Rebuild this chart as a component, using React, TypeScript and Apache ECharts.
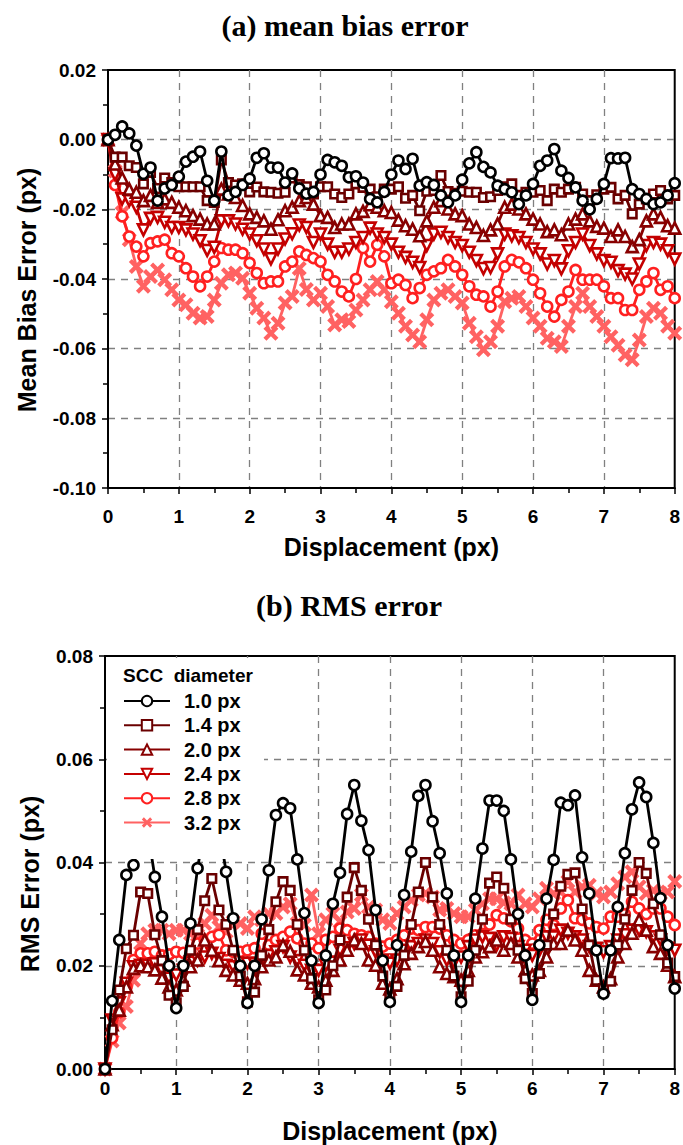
import React, { useEffect, useRef } from "react";
import * as echarts from "echarts";

// Displacement (px)
const disp = [0,0.1,0.2,0.3,0.4,0.5,0.6,0.7,0.8,0.9,1,1.1,1.2,1.3,1.4,1.5,1.6,1.7,1.8,1.9,2,2.1,2.2,2.3,2.4,2.5,2.6,2.7,2.8,2.9,3,3.1,3.2,3.3,3.4,3.5,3.6,3.7,3.8,3.9,4,4.1,4.2,4.3,4.4,4.5,4.6,4.7,4.8,4.9,5,5.1,5.2,5.3,5.4,5.5,5.6,5.7,5.8,5.9,6,6.1,6.2,6.3,6.4,6.5,6.6,6.7,6.8,6.9,7,7.1,7.2,7.3,7.4,7.5,7.6,7.7,7.8,7.9,8];

const seriesNames = ["1.0 px", "1.4 px", "2.0 px", "2.4 px", "2.8 px", "3.2 px"];

// (a) mean bias error
const mbe10 = [0,0.0014,0.0038,0.0018,-0.0017,-0.0098,-0.008,-0.0175,-0.014,-0.013,-0.0106,-0.0063,-0.0049,-0.0034,-0.0118,-0.0175,-0.0034,-0.016,-0.015,-0.013,-0.0112,-0.0052,-0.0039,-0.008,-0.008,-0.0123,-0.0097,-0.014,-0.0155,-0.015,-0.01,-0.0058,-0.0065,-0.0075,-0.0108,-0.0105,-0.0123,-0.017,-0.018,-0.015,-0.01,-0.006,-0.0084,-0.0055,-0.0132,-0.0122,-0.013,-0.016,-0.018,-0.016,-0.0115,-0.0068,-0.0036,-0.0078,-0.0094,-0.0132,-0.0142,-0.0151,-0.0185,-0.016,-0.0127,-0.0075,-0.006,-0.0027,-0.0089,-0.011,-0.0137,-0.0175,-0.02,-0.017,-0.0127,-0.0053,-0.0054,-0.0052,-0.0142,-0.0156,-0.017,-0.0185,-0.018,-0.016,-0.0125];
const mbe14 = [0,-0.005,-0.005,-0.0075,-0.008,-0.0127,-0.0094,-0.014,-0.011,-0.0123,-0.0135,-0.0135,-0.0135,-0.0135,-0.0175,-0.018,-0.0058,-0.0123,-0.013,-0.0127,-0.015,-0.0136,-0.015,-0.0151,-0.0154,-0.0151,-0.011,-0.0129,-0.0135,-0.0156,-0.0135,-0.0135,-0.0156,-0.0166,-0.0156,-0.0127,-0.0137,-0.0142,-0.0164,-0.0142,-0.0142,-0.0135,-0.0168,-0.016,-0.0204,-0.0148,-0.0146,-0.0103,-0.0149,-0.0154,-0.0148,-0.0151,-0.0151,-0.0166,-0.0164,-0.0146,-0.0135,-0.0127,-0.016,-0.0151,-0.0151,-0.0146,-0.0175,-0.0142,-0.0151,-0.0142,-0.0137,-0.0156,-0.0175,-0.0158,-0.0142,-0.0137,-0.017,-0.016,-0.0213,-0.0185,-0.017,-0.0156,-0.0146,-0.017,-0.016];
const mbe20 = [0,-0.007,-0.011,-0.0142,-0.0151,-0.0175,-0.016,-0.018,-0.017,-0.018,-0.0194,-0.0204,-0.0218,-0.0228,-0.0242,-0.0242,-0.0142,-0.0156,-0.0166,-0.0189,-0.0213,-0.0223,-0.0233,-0.0257,-0.023,-0.0204,-0.0194,-0.0175,-0.0166,-0.0185,-0.0218,-0.0223,-0.0252,-0.0242,-0.0242,-0.0213,-0.0206,-0.0187,-0.0194,-0.0204,-0.0209,-0.0231,-0.0247,-0.0257,-0.0276,-0.0233,-0.0194,-0.0175,-0.0199,-0.0213,-0.0218,-0.0242,-0.0252,-0.0275,-0.0259,-0.0242,-0.0194,-0.0185,-0.0199,-0.0213,-0.0228,-0.0242,-0.0264,-0.0259,-0.0273,-0.0242,-0.0228,-0.0213,-0.0233,-0.0249,-0.0254,-0.0278,-0.0259,-0.0278,-0.0307,-0.0287,-0.0233,-0.0213,-0.0223,-0.0247,-0.0254];
const mbe24 = [0,-0.01,-0.017,-0.0175,-0.0194,-0.0259,-0.0226,-0.0223,-0.0237,-0.0252,-0.0252,-0.0259,-0.0271,-0.029,-0.0318,-0.0309,-0.0233,-0.0233,-0.0242,-0.0257,-0.0271,-0.029,-0.0314,-0.0342,-0.0314,-0.0285,-0.027,-0.0245,-0.0252,-0.0295,-0.0271,-0.03,-0.0323,-0.0323,-0.0314,-0.0295,-0.0281,-0.0254,-0.0271,-0.0281,-0.03,-0.0323,-0.0338,-0.0352,-0.0367,-0.0304,-0.0271,-0.0266,-0.0281,-0.0295,-0.0304,-0.0323,-0.0347,-0.037,-0.0367,-0.0328,-0.0271,-0.0276,-0.0281,-0.0295,-0.0314,-0.0328,-0.0357,-0.0347,-0.0371,-0.0319,-0.0295,-0.0271,-0.0304,-0.0328,-0.0347,-0.0352,-0.0376,-0.0386,-0.04,-0.0357,-0.0304,-0.0295,-0.03,-0.0319,-0.0343];
const mbe28 = [0,-0.013,-0.022,-0.0278,-0.0307,-0.0335,-0.0297,-0.0292,-0.0287,-0.0326,-0.0335,-0.0369,-0.0393,-0.0421,-0.0393,-0.035,-0.0311,-0.0316,-0.0316,-0.0326,-0.0354,-0.0383,-0.0412,-0.0407,-0.0407,-0.0364,-0.035,-0.0321,-0.0331,-0.034,-0.035,-0.0388,-0.0407,-0.0436,-0.045,-0.04,-0.0311,-0.035,-0.0302,-0.0335,-0.0412,-0.0402,-0.0417,-0.0455,-0.0426,-0.0388,-0.0378,-0.0369,-0.0345,-0.0364,-0.0388,-0.0421,-0.0445,-0.045,-0.0479,-0.0436,-0.0364,-0.0345,-0.0352,-0.0369,-0.0402,-0.0441,-0.0479,-0.0508,-0.046,-0.0436,-0.0374,-0.0402,-0.0402,-0.0402,-0.0421,-0.0455,-0.0455,-0.0489,-0.0489,-0.0431,-0.0407,-0.0383,-0.0431,-0.0421,-0.0455];
const mbe32 = [0,-0.009,-0.021,-0.0287,-0.0364,-0.0421,-0.0393,-0.0374,-0.0402,-0.0431,-0.046,-0.0474,-0.0498,-0.0512,-0.0508,-0.046,-0.0412,-0.0388,-0.0383,-0.0398,-0.0441,-0.0484,-0.0512,-0.0556,-0.0527,-0.0469,-0.045,-0.037,-0.043,-0.046,-0.0441,-0.0479,-0.0532,-0.0517,-0.0522,-0.0489,-0.046,-0.0431,-0.0407,-0.0431,-0.0465,-0.0498,-0.0536,-0.0561,-0.058,-0.0517,-0.046,-0.0441,-0.0431,-0.045,-0.0469,-0.0527,-0.0566,-0.0603,-0.058,-0.0536,-0.0465,-0.0455,-0.045,-0.0479,-0.0512,-0.0536,-0.057,-0.058,-0.0594,-0.0536,-0.0479,-0.0441,-0.0479,-0.0508,-0.0536,-0.0566,-0.059,-0.0618,-0.0632,-0.0575,-0.0508,-0.0484,-0.0498,-0.0536,-0.0556];

// (b) RMS error
const rms10 = [0,0.0132,0.025,0.0376,0.0395,0.045,0.046,0.0372,0.0295,0.02,0.0118,0.02,0.0282,0.0389,0.047,0.049,0.047,0.0382,0.0292,0.02,0.0128,0.02,0.029,0.0385,0.0492,0.0515,0.0505,0.0406,0.0302,0.021,0.0128,0.022,0.032,0.038,0.0494,0.055,0.0481,0.0424,0.0308,0.021,0.013,0.024,0.0337,0.0421,0.0529,0.055,0.048,0.0418,0.034,0.022,0.013,0.022,0.033,0.0427,0.052,0.052,0.05,0.0406,0.03,0.022,0.0134,0.024,0.033,0.0405,0.0516,0.0511,0.053,0.041,0.034,0.023,0.0146,0.023,0.0314,0.0418,0.0503,0.0555,0.0527,0.0438,0.0331,0.024,0.0156];
const rms14 = [0,0.0076,0.0153,0.0233,0.0259,0.0343,0.034,0.026,0.021,0.0143,0.0128,0.016,0.023,0.027,0.0326,0.0369,0.0308,0.028,0.023,0.018,0.013,0.0149,0.022,0.027,0.0324,0.0363,0.0346,0.028,0.023,0.0175,0.0134,0.0153,0.02,0.025,0.0333,0.039,0.0346,0.029,0.024,0.018,0.014,0.016,0.022,0.028,0.0343,0.04,0.0333,0.028,0.023,0.018,0.014,0.017,0.023,0.029,0.036,0.0372,0.035,0.029,0.023,0.0175,0.0146,0.0185,0.024,0.03,0.0354,0.0377,0.038,0.031,0.024,0.0172,0.0156,0.017,0.024,0.029,0.0346,0.04,0.0379,0.032,0.026,0.0205,0.0179];
const rms20 = [0,0.0086,0.0114,0.0159,0.0195,0.02,0.0198,0.0192,0.0176,0.0159,0.0153,0.0172,0.0198,0.0211,0.025,0.023,0.021,0.0191,0.0182,0.0172,0.0166,0.0175,0.0198,0.0211,0.0217,0.024,0.0228,0.0192,0.0182,0.0166,0.0159,0.0172,0.0191,0.0211,0.023,0.025,0.0243,0.0211,0.0201,0.0166,0.0155,0.0175,0.0204,0.0224,0.0237,0.0247,0.023,0.0198,0.0185,0.0179,0.0172,0.0191,0.0217,0.0227,0.0237,0.025,0.023,0.0243,0.0217,0.0191,0.0182,0.0191,0.0217,0.0243,0.0243,0.0269,0.025,0.023,0.0191,0.0172,0.0159,0.0175,0.0217,0.0243,0.0263,0.0289,0.0269,0.0237,0.0224,0.0201,0.0179];
const rms24 = [0,0.0095,0.0128,0.0166,0.0198,0.0201,0.0201,0.0204,0.0191,0.0176,0.0182,0.0191,0.0207,0.0211,0.0217,0.0224,0.0214,0.0201,0.0198,0.0195,0.0205,0.0204,0.0214,0.022,0.0227,0.0237,0.0217,0.021,0.0201,0.0191,0.0191,0.0201,0.0207,0.023,0.0235,0.0243,0.025,0.024,0.0227,0.0211,0.0205,0.0211,0.023,0.0237,0.0243,0.025,0.0243,0.0227,0.0211,0.0207,0.0217,0.0237,0.025,0.0256,0.0253,0.024,0.0256,0.0253,0.0237,0.023,0.022,0.023,0.0256,0.0256,0.0269,0.0263,0.0256,0.025,0.0237,0.0234,0.0227,0.0237,0.025,0.026,0.0269,0.0269,0.0266,0.0256,0.025,0.0234,0.023];
const rms28 = [0,0.006,0.011,0.016,0.0211,0.0224,0.0224,0.0227,0.022,0.0222,0.0227,0.0225,0.0227,0.0243,0.025,0.0256,0.026,0.023,0.0227,0.0227,0.023,0.0234,0.0262,0.024,0.025,0.0256,0.0266,0.0253,0.0243,0.0243,0.0234,0.025,0.0256,0.0272,0.0269,0.0262,0.0259,0.0256,0.0243,0.0237,0.0243,0.025,0.0259,0.0272,0.0269,0.0275,0.0275,0.0272,0.0259,0.025,0.0243,0.025,0.0259,0.0262,0.028,0.0298,0.0292,0.0286,0.0272,0.025,0.0243,0.0269,0.0289,0.0279,0.0311,0.0327,0.0292,0.0289,0.0282,0.0275,0.0272,0.0295,0.0295,0.03,0.0324,0.0311,0.03,0.0311,0.0311,0.0295,0.0279];
const rms32 = [0,0.0054,0.0089,0.0121,0.0172,0.0243,0.0262,0.0269,0.0269,0.0262,0.0269,0.0269,0.0262,0.0259,0.0282,0.0298,0.0275,0.0266,0.0285,0.0282,0.0272,0.0295,0.0289,0.0301,0.0301,0.0314,0.032,0.0282,0.0279,0.0337,0.0262,0.0289,0.0301,0.0285,0.0304,0.0311,0.0337,0.0314,0.0308,0.0289,0.0282,0.0301,0.0314,0.0327,0.0337,0.034,0.0333,0.0308,0.0311,0.0301,0.0295,0.0295,0.0308,0.032,0.033,0.033,0.0322,0.032,0.0337,0.032,0.0314,0.033,0.035,0.034,0.0343,0.0363,0.0343,0.0353,0.0356,0.034,0.0333,0.0343,0.0359,0.0372,0.0382,0.0353,0.034,0.0346,0.034,0.0343,0.0363];

const mbeTicks = [-0.1, 0.02, 0.02];
const rmsTicks = [0, 0.08, 0.02];

const COLORS = ["#000000", "#6a0000", "#880000", "#c40000", "#ff2020", "#ff6262"];
const X_PATH = "path://M2,0 L5,3 L8,0 L10,2 L7,5 L10,8 L8,10 L5,7 L2,10 L0,8 L3,5 L0,2 Z";
const SYMBOLS = [
  { symbol: "circle", size: 10, rotate: 0, filled: false },
  { symbol: "rect", size: 8.5, rotate: 0, filled: false },
  { symbol: "triangle", size: 11, rotate: 0, filled: false },
  { symbol: "triangle", size: 11, rotate: 180, filled: false },
  { symbol: "circle", size: 10, rotate: 0, filled: false },
  { symbol: X_PATH, size: 15, rotate: 0, filled: true },
];

const SANS = "'Liberation Sans', Arial, Helvetica, sans-serif";
const SERIF = "'Liberation Serif', 'Times New Roman', serif";

export default function App() {
  const ref = useRef<HTMLDivElement>(null);
  useEffect(() => {
    document.body.style.margin = "0";
    if (!ref.current) return;
    const chart = echarts.init(ref.current, null, { renderer: "svg" });

    const mbe = [mbe10, mbe14, mbe20, mbe24, mbe28, mbe32];
    const rms = [rms10, rms14, rms20, rms24, rms28, rms32];

    const mk = (vals: number[], i: number, g: number) => ({
      type: "line",
      name: seriesNames[i],
      xAxisIndex: g,
      yAxisIndex: g,
      data: disp.map((x, k) => [x, vals[k]]),
      symbol: SYMBOLS[i].symbol,
      symbolSize: SYMBOLS[i].size,
      symbolRotate: SYMBOLS[i].rotate,
      showAllSymbol: true,
      lineStyle: { color: COLORS[i], width: 2.8 },
      itemStyle: SYMBOLS[i].filled
        ? { color: COLORS[i], borderWidth: 0 }
        : { color: "#ffffff", borderColor: COLORS[i], borderWidth: 2.6 },
      emphasis: { disabled: true },
      z: 2 + (5 - i) * 0.01,
    });

    const dash = { type: [7, 6], color: "#808080", width: 1.3 };

    const xAx = (g: number, margin: number) => ({
      gridIndex: g,
      type: "value",
      min: 0,
      max: 8,
      interval: 1,
      axisLine: { show: true, onZero: false, lineStyle: { color: "#000", width: 2 } },
      axisTick: { show: true, length: 6, lineStyle: { color: "#000", width: 1.5 } },
      minorTick: { show: true, splitNumber: 2, length: 5, lineStyle: { color: "#000", width: 1.5 } },
      axisLabel: { fontFamily: SANS, fontWeight: "bold", fontSize: 19, color: "#000", margin },
      splitLine: { show: true, showMinLine: false, showMaxLine: false, lineStyle: dash },
      name: "Displacement (px)",
      nameLocation: "middle",
      nameGap: g === 0 ? 46 : 49,
      nameTextStyle: { fontFamily: SANS, fontWeight: "bold", fontSize: 25, color: "#000" },
    });

    const yAx = (g: number, t: number[]) => ({
      gridIndex: g,
      type: "value",
      min: t[0],
      max: t[1],
      interval: t[2],
      axisLine: { show: true, onZero: false, lineStyle: { color: "#000", width: 2 } },
      axisTick: { show: true, length: 6, lineStyle: { color: "#000", width: 1.5 } },
      minorTick: { show: true, splitNumber: 2, length: 5, lineStyle: { color: "#000", width: 1.5 } },
      axisLabel: {
        fontFamily: SANS, fontWeight: "bold", fontSize: 19, color: "#000", margin: 12,
        formatter: (v: number) => (Math.abs(v) < 1e-9 ? "0.00" : v.toFixed(2)),
      },
      splitLine: { show: true, showMinLine: false, showMaxLine: false, lineStyle: dash },
    });

    const option: any = {
      animation: false,
      backgroundColor: "#ffffff",
      grid: [
        { left: 108, top: 70, width: 569, height: 418, show: true, borderColor: "#000", borderWidth: 2, backgroundColor: "transparent" },
        { left: 105, top: 656, width: 570, height: 413, show: true, borderColor: "#000", borderWidth: 2, backgroundColor: "transparent" },
      ],
      xAxis: [xAx(0, 19), xAx(1, 10)],
      yAxis: [yAx(0, mbeTicks), yAx(1, rmsTicks)],
      legend: {
        data: seriesNames,
        orient: "vertical",
        left: 123,
        top: 691,
        itemWidth: 46,
        itemHeight: 13,
        itemGap: 4.3,
        padding: 0,
        selectedMode: false,
        textStyle: { fontFamily: SANS, fontWeight: "bold", fontSize: 20, color: "#000", lineHeight: 20, padding: [0, 0, 0, 9] },
        z: 6,
      },
      graphic: [
        { type: "text", x: 345, y: 25, z: 5, style: { text: "(a) mean bias error", font: `bold 30px ${SERIF}`, fill: "#000", textAlign: "center", textVerticalAlign: "middle" } },
        { type: "text", x: 349, y: 605, z: 5, style: { text: "(b) RMS error", font: `bold 30px ${SERIF}`, fill: "#000", textAlign: "center", textVerticalAlign: "middle" } },
        { type: "text", x: 27, y: 290, rotation: Math.PI / 2, z: 5, style: { text: "Mean Bias Error (px)", font: `bold 25px ${SANS}`, fill: "#000", textAlign: "center", textVerticalAlign: "middle" } },
        { type: "text", x: 30, y: 884, rotation: Math.PI / 2, z: 5, style: { text: "RMS Error (px)", font: `bold 25px ${SANS}`, fill: "#000", textAlign: "center", textVerticalAlign: "middle" } },
        { type: "rect", z: 3, shape: { x: 107, y: 658, width: 157, height: 201 }, style: { fill: "#ffffff" } },
        { type: "text", x: 123, y: 675, z: 7, style: { text: "SCC  diameter", font: `bold 19px ${SANS}`, fill: "#000", textAlign: "left", textVerticalAlign: "middle" } },
      ],
      series: [
        ...mbe.map((v, i) => mk(v, i, 0)),
        ...rms.map((v, i) => mk(v, i, 1)),
      ],
    };
    chart.setOption(option);
    return () => chart.dispose();
  }, []);
  return <div ref={ref} style={{ width: 683, height: 1145 }} />;
}
